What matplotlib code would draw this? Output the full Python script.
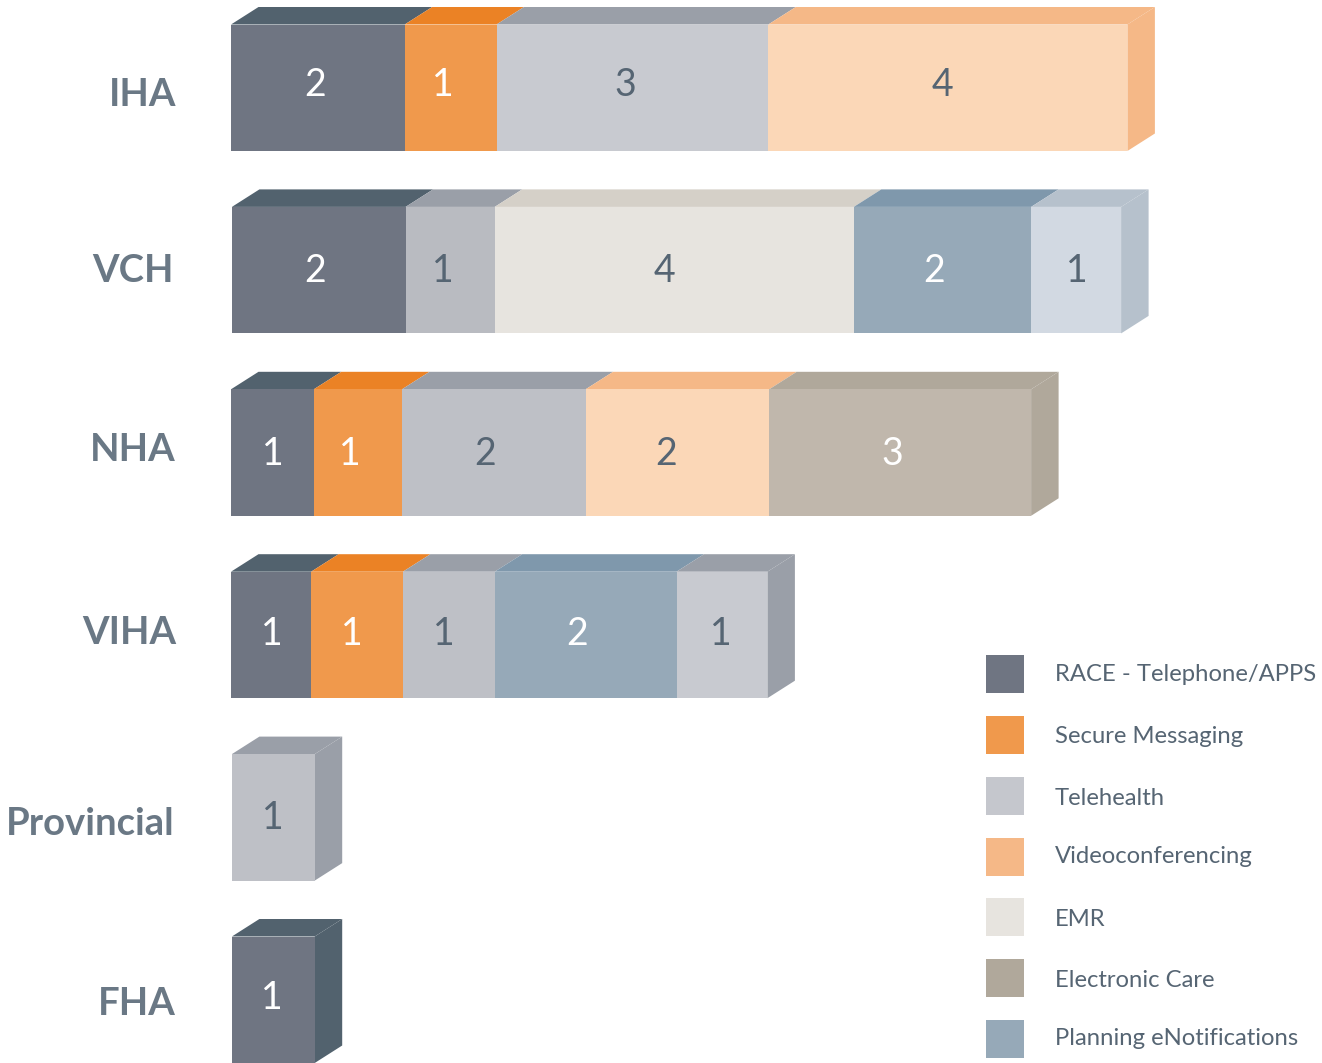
import matplotlib
matplotlib.use("Agg")
import matplotlib.pyplot as plt
from matplotlib.patches import Polygon, Rectangle

plt.rcParams['font.family'] = ['Lato', 'DejaVu Sans']

# === DATA ===
rows = ["IHA", "VCH", "NHA", "VIHA", "Provincial", "FHA"]

legend_names = ["RACE - Telephone/APPS", "Secure Messaging", "Telehealth",
                "Videoconferencing", "EMR", "Electronic Care", "Planning eNotifications"]

iha_cats = ["RACE", "Secure", "Tele", "Video"]
iha_vals = [2, 1, 3, 4]
iha_lens = [1.93, 1.02, 3.02, 3.99]

vch_cats = ["RACE", "TeleMid", "EMR", "Plan", "PlanLight"]
vch_vals = [2, 1, 4, 2, 1]
vch_lens = [1.93, 0.99, 3.99, 1.97, 1.00]

nha_cats = ["RACE", "Secure", "TeleDark", "Video", "Care"]
nha_vals = [1, 1, 2, 2, 3]
nha_lens = [0.92, 0.98, 2.04, 2.04, 2.91]

viha_cats = ["RACE", "Secure", "TeleDark", "Plan", "Tele"]
viha_vals = [1, 1, 1, 2, 1]
viha_lens = [0.89, 1.02, 1.02, 2.02, 1.01]

prov_cats = ["TeleDark"]
prov_vals = [1]
prov_lens = [0.92]

fha_cats = ["RACE"]
fha_vals = [1]
fha_lens = [0.92]

# === STYLE ===
faces = {"RACE": "#6F7582", "Secure": "#F0994C", "Tele": "#C8CAD0", "TeleMid": "#B9BBC1",
         "TeleDark": "#BEC0C6", "Video": "#FBD7B7", "EMR": "#E7E4DF", "Care": "#C0B7AC",
         "Plan": "#96A9B8", "PlanLight": "#D2D9E2"}
tops = {"RACE": "#52626E", "Secure": "#EB8225", "Tele": "#9A9FA8", "TeleMid": "#9A9FA8",
        "TeleDark": "#9A9FA8", "Video": "#F5B887", "EMR": "#D5D0C8", "Care": "#B0A89B",
        "Plan": "#7F98AC", "PlanLight": "#B6C1CC"}
light_text = ["RACE", "Secure", "Care", "Plan"]
legend_colors = ["#6F7582", "#F0994C", "#C5C7CD", "#F5B887", "#E7E4DF", "#B0A89B", "#96A9B8"]
text_color = "#566573"
label_color = "#6A7885"

W, H = 1322, 1063
UNIT = 90.0      # px per length unit
ROW = 182.4      # px per row
X0 = 231.0
Y0 = 87.75
DX = 27.5 / UNIT   # depth of the box
DY = 17.5 / ROW
BAR_H = 126.5 / ROW

row_starts = [0, 0.01, 0, 0, 0.01, 0.01]
# nudges of the number labels, px (x, y)
nudge_x = [[-3, -8, -7, -5], [-4, -7, -10, -8, 1], [0, -8, -9, -11, -8],
           [1, -5, -5, -8, -1], [-1], [-2]]
nudge_y = [-3, 1, 1, -1, 1, -2]
label_y = [95, 271, 450, 633, 824, 1004]
label_right = [176, 174, 176, 176, 174, 176]
legend_y = [674, 735, 796, 857, 917, 978, 1039]
legend_text_y = [674, 736, 798, 856, 919, 980, 1038]

fig = plt.figure(figsize=(W / 100, H / 100), dpi=100)
ax = fig.add_axes([0, 0, 1, 1])
ax.set_xlim(-X0 / UNIT, (W - X0) / UNIT)
ax.set_ylim((H - Y0) / ROW, -Y0 / ROW)
ax.axis('off')


def px(x, y):
    return (x - X0) / UNIT, (y - Y0) / ROW


all_cats = [iha_cats, vch_cats, nha_cats, viha_cats, prov_cats, fha_cats]
all_vals = [iha_vals, vch_vals, nha_vals, viha_vals, prov_vals, fha_vals]
all_lens = [iha_lens, vch_lens, nha_lens, viha_lens, prov_lens, fha_lens]

for r, name in enumerate(rows):
    left = row_starts[r]
    top = r - BAR_H / 2
    bottom = r + BAR_H / 2
    for i, (cat, val, length) in enumerate(zip(all_cats[r], all_vals[r], all_lens[r])):
        right = left + length
        ax.barh(r, length, left=left, height=BAR_H, color=faces[cat], edgecolor='none', zorder=3)
        # top of the box
        ax.add_patch(Polygon([(left, top), (left + DX, top - DY), (right + DX, top - DY), (right, top)],
                             closed=True, facecolor=tops[cat], edgecolor='none', zorder=2 + i * 0.01))
        tx = left + length / 2 + nudge_x[r][i] / UNIT
        ty = r + nudge_y[r] / ROW
        ax.text(tx, ty, str(val), ha='center', va='center', fontsize=27, zorder=5,
                color='white' if cat in light_text else text_color)
        left = right
    # right side of the last segment
    ax.add_patch(Polygon([(left, top), (left + DX, top - DY), (left + DX, bottom - DY), (left, bottom)],
                         closed=True, facecolor=tops[all_cats[r][-1]], edgecolor='none', zorder=2.5))
    lx, ly = px(label_right[r], label_y[r])
    ax.text(lx, ly, name, ha='right', va='center', fontsize=27.5, fontweight='bold', color=label_color)

# === LEGEND ===
for name, color, y, ty in zip(legend_names, legend_colors, legend_y, legend_text_y):
    sx, sy = px(986, y - 19)
    ax.add_patch(Rectangle((sx, sy), 38 / UNIT, 38 / ROW, facecolor=color, edgecolor='none'))
    lx, ly = px(1055, ty)
    ax.text(lx, ly, name, ha='left', va='center', fontsize=17.2, color=text_color)

fig.savefig("out.png", dpi=100)
